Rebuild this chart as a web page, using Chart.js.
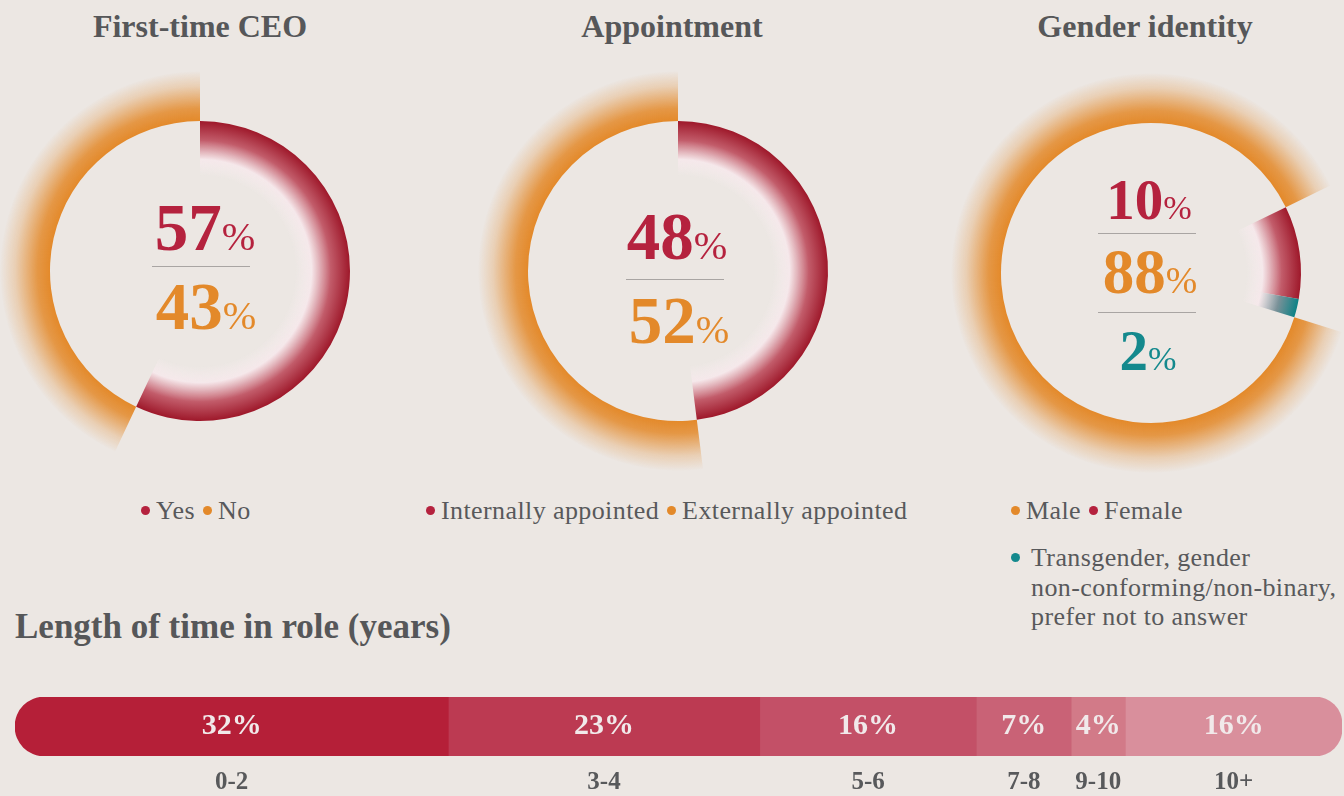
<!DOCTYPE html>
<html lang="en">
<head>
    <meta charset="UTF-8">
    <title>CEO profile</title>
    <script src="https://cdn.jsdelivr.net/npm/chart.js"></script>
    <style>
        body {
            margin: 0;
            width: 1344px;
            height: 796px;
            background-color: #ece7e3;
            font-family: 'Liberation Serif', serif;
            position: relative;
            overflow: hidden;
        }
        .title {
            position: absolute;
            top: 8px;
            width: 400px;
            text-align: center;
            font-weight: bold;
            font-size: 32px;
            color: #565759;
        }
        .donut {
            position: absolute;
            width: 400px;
            height: 400px;
        }
        .center {
            position: absolute;
            width: 200px;
            text-align: center;
            font-weight: bold;
            line-height: 1;
        }
        .center small {
            font-weight: normal;
            font-size: 0.6em;
        }
        .rule {
            position: absolute;
            height: 1px;
            background: #a9a5a3;
        }
        .legend {
            position: absolute;
            font-size: 26px;
            letter-spacing: 0.4px;
            color: #58595b;
            line-height: 29.5px;
        }
        .legend .dot {
            display: inline-block;
            width: 9px;
            height: 9px;
            border-radius: 50%;
            margin: 0 6px 4px 0;
        }
        .legend .item { margin-right: 8px; }
        h2 {
            position: absolute;
            left: 15px;
            top: 607px;
            margin: 0;
            font-size: 35px;
            color: #565759;
        }
        #bar {
            position: absolute;
            left: 0;
            top: 680px;
        }
    </style>
</head>
<body>

    <div class="title" style="left:0">First-time CEO</div>
    <div class="title" style="left:472px">Appointment</div>
    <div class="title" style="left:945px">Gender identity</div>

    <canvas id="donutCeo" class="donut" style="left:0;top:71px"></canvas>
    <canvas id="donutAppt" class="donut" style="left:478px;top:71px"></canvas>
    <canvas id="donutGender" class="donut" style="left:951px;top:73px"></canvas>

    <div id="centers"></div>
    <div id="legends"></div>

    <h2>Length of time in role (years)</h2>
    <canvas id="bar"></canvas>

    <script>
        // --- dados ---
        const ceoLabels = ['Yes', 'No'];
        const ceoValues = [57, 43];

        const apptLabels = ['Internally appointed', 'Externally appointed'];
        const apptValues = [48, 52];

        const genderLabels = ['Female', 'Transgender, gender non-conforming/non-binary, prefer not to answer', 'Male'];
        const genderValues = [10, 2, 88];

        const tenureLabels = ['0-2', '3-4', '5-6', '7-8', '9-10', '10+'];
        const tenureValues = [32, 23, 16, 7, 4, 16];

        // cores
        const RED = '#b5223e';
        const ORANGE = '#e3892a';
        const TEAL = '#14898d';
        const ceoColors = [RED, ORANGE];
        const apptColors = [RED, ORANGE];
        const genderColors = [RED, TEAL, ORANGE];
        const tenureColors = ['#b51f38', '#bc3a52', '#c35067', '#c96276', '#d27a88', '#d98f9c'];

        // rgb for the ring gradients
        const ringRGB = { '#e3892a': [227, 137, 42], '#b5223e': [158, 24, 42], '#14898d': [12, 130, 134] };

        function ringGradient(ctx, outer) {
            const chart = ctx.chart;
            const ca = chart.chartArea;
            const col = ctx.dataset.colors[ctx.dataIndex];
            if (!ca) return 'rgba(0,0,0,0)';
            const isOrange = col === ORANGE;
            if (outer !== isOrange) return 'rgba(0,0,0,0)';
            const cx = (ca.left + ca.right) / 2;
            const cy = (ca.top + ca.bottom) / 2;
            const R = Math.min(ca.right - ca.left, ca.bottom - ca.top) / 2;
            const [r, g, b] = ringRGB[col];
            let grad;
            if (outer) {
                grad = chart.ctx.createRadialGradient(cx, cy, R * 0.75, cx, cy, R);
                grad.addColorStop(0, `rgba(${r},${g},${b},1)`);
                grad.addColorStop(0.25, `rgba(${r},${g},${b},0.85)`);
                grad.addColorStop(0.7, `rgba(${r},${g},${b},0.25)`);
                grad.addColorStop(1, `rgba(${r},${g},${b},0)`);
            } else {
                grad = chart.ctx.createRadialGradient(cx, cy, R * 0.475, cx, cy, R * 0.75);
                grad.addColorStop(0, 'rgba(248,238,240,0)');
                grad.addColorStop(0.3, 'rgba(246,232,235,0.9)');
                grad.addColorStop(0.65, `rgba(${Math.round((r + 230) / 2)},${Math.round((g + 160) / 2)},${Math.round((b + 170) / 2)},1)`);
                grad.addColorStop(1, `rgba(${r},${g},${b},1)`);
            }
            return grad;
        }

        function makeDonut(id, labels, values, colors, rotation) {
            return new Chart(document.getElementById(id), {
                type: 'doughnut',
                data: {
                    labels: labels,
                    datasets: [
                        { data: values, colors: colors, weight: 50, backgroundColor: c => ringGradient(c, true) },
                        { data: values, colors: colors, weight: 55, backgroundColor: c => ringGradient(c, false) }
                    ]
                },
                options: {
                    responsive: false,
                    animation: false,
                    cutout: '47.5%',
                    rotation: rotation,
                    borderWidth: 0,
                    plugins: { legend: { display: false }, tooltip: { enabled: false } }
                }
            });
        }

        makeDonut('donutCeo', ceoLabels, ceoValues, ceoColors, 0);
        makeDonut('donutAppt', apptLabels, apptValues, apptColors, 0);
        makeDonut('donutGender', genderLabels, genderValues, genderColors, 64);

        // textos centrais
        const centers = document.getElementById('centers');
        function centerText(cx, top, value, color, size) {
            const d = document.createElement('div');
            d.className = 'center';
            d.style.left = (cx - 100) + 'px';
            d.style.top = top + 'px';
            d.style.color = color;
            d.style.fontSize = size + 'px';
            d.innerHTML = value + '<small>%</small>';
            centers.appendChild(d);
        }
        function rule(cx, y, w) {
            const d = document.createElement('div');
            d.className = 'rule';
            d.style.left = (cx - w / 2) + 'px';
            d.style.top = y + 'px';
            d.style.width = w + 'px';
            centers.appendChild(d);
        }
        centerText(205, 194, ceoValues[0], RED, 67);
        rule(201, 266, 98);
        centerText(206, 273, ceoValues[1], ORANGE, 67);

        centerText(677, 203, apptValues[0], RED, 67);
        rule(675, 279, 98);
        centerText(679, 287, apptValues[1], ORANGE, 67);

        centerText(1149, 171, genderValues[0], RED, 57);
        rule(1147, 233, 98);
        centerText(1150, 241, genderValues[2], ORANGE, 63);
        rule(1147, 312, 98);
        centerText(1148, 322, genderValues[1], TEAL, 57);

        // legendas
        const legends = document.getElementById('legends');
        function legend(left, top, items) {
            const d = document.createElement('div');
            d.className = 'legend';
            d.style.left = left + 'px';
            d.style.top = top + 'px';
            d.innerHTML = items.map(([t, c]) =>
                `<span class="item"><span class="dot" style="background:${c}"></span>${t}</span>`).join('');
            legends.appendChild(d);
        }
        legend(141, 496, ceoLabels.map((l, i) => [l, ceoColors[i]]));
        legend(426, 496, apptLabels.map((l, i) => [l, apptColors[i]]));
        legend(1011, 496, [[genderLabels[2], ORANGE], [genderLabels[0], RED]]);
        const g3 = document.createElement('div');
        g3.className = 'legend';
        g3.style.left = '1011px';
        g3.style.top = '543px';
        g3.style.width = '340px';
        g3.style.paddingLeft = '20px';
        g3.style.textIndent = '-20px';
        g3.innerHTML = `<span class="dot" style="background:${TEAL};margin-right:11px"></span>Transgender, gender<br>non-conforming/non-binary,<br>prefer not to answer`;
        legends.appendChild(g3);

        // barra empilhada
        const barLabels = {
            id: 'barLabels',
            afterDatasetsDraw(chart) {
                const ctx = chart.ctx;
                ctx.save();
                ctx.textAlign = 'center';
                ctx.textBaseline = 'middle';
                chart.data.datasets.forEach((ds, i) => {
                    const el = chart.getDatasetMeta(i).data[0];
                    const mid = (el.x + el.base) / 2;
                    ctx.fillStyle = '#f1e9ea';
                    ctx.font = 'bold 30px "Liberation Serif"';
                    ctx.fillText(ds.data[0] + '%', mid, el.y);
                    ctx.fillStyle = '#58595b';
                    ctx.font = 'bold 25px "Liberation Serif"';
                    ctx.fillText(ds.label, mid, el.y + 56);
                });
                ctx.restore();
            }
        };

        const total = tenureValues.reduce((a, b) => a + b, 0);
        const last = tenureValues.length - 1;
        const barCanvas = document.getElementById('bar');
        barCanvas.width = 1344;
        barCanvas.height = 116;
        new Chart(barCanvas, {
            type: 'bar',
            data: {
                labels: ['tenure'],
                datasets: tenureLabels.map((l, i) => ({
                    label: l,
                    data: [tenureValues[i]],
                    backgroundColor: tenureColors[i],
                    borderSkipped: false,
                    borderRadius: i === 0 ? { topLeft: 31, bottomLeft: 31, topRight: 0, bottomRight: 0 }
                        : i === last ? { topLeft: 0, bottomLeft: 0, topRight: 27, bottomRight: 27 } : 0
                }))
            },
            options: {
                indexAxis: 'y',
                responsive: false,
                animation: false,
                layout: { padding: { left: 15, right: 2, top: 17, bottom: 40 } },
                datasets: { bar: { barPercentage: 1, categoryPercentage: 1 } },
                scales: {
                    x: { stacked: true, display: false, min: 0, max: total },
                    y: { stacked: true, display: false }
                },
                plugins: { legend: { display: false }, tooltip: { enabled: false } }
            },
            plugins: [barLabels]
        });
    </script>

</body>
</html>
